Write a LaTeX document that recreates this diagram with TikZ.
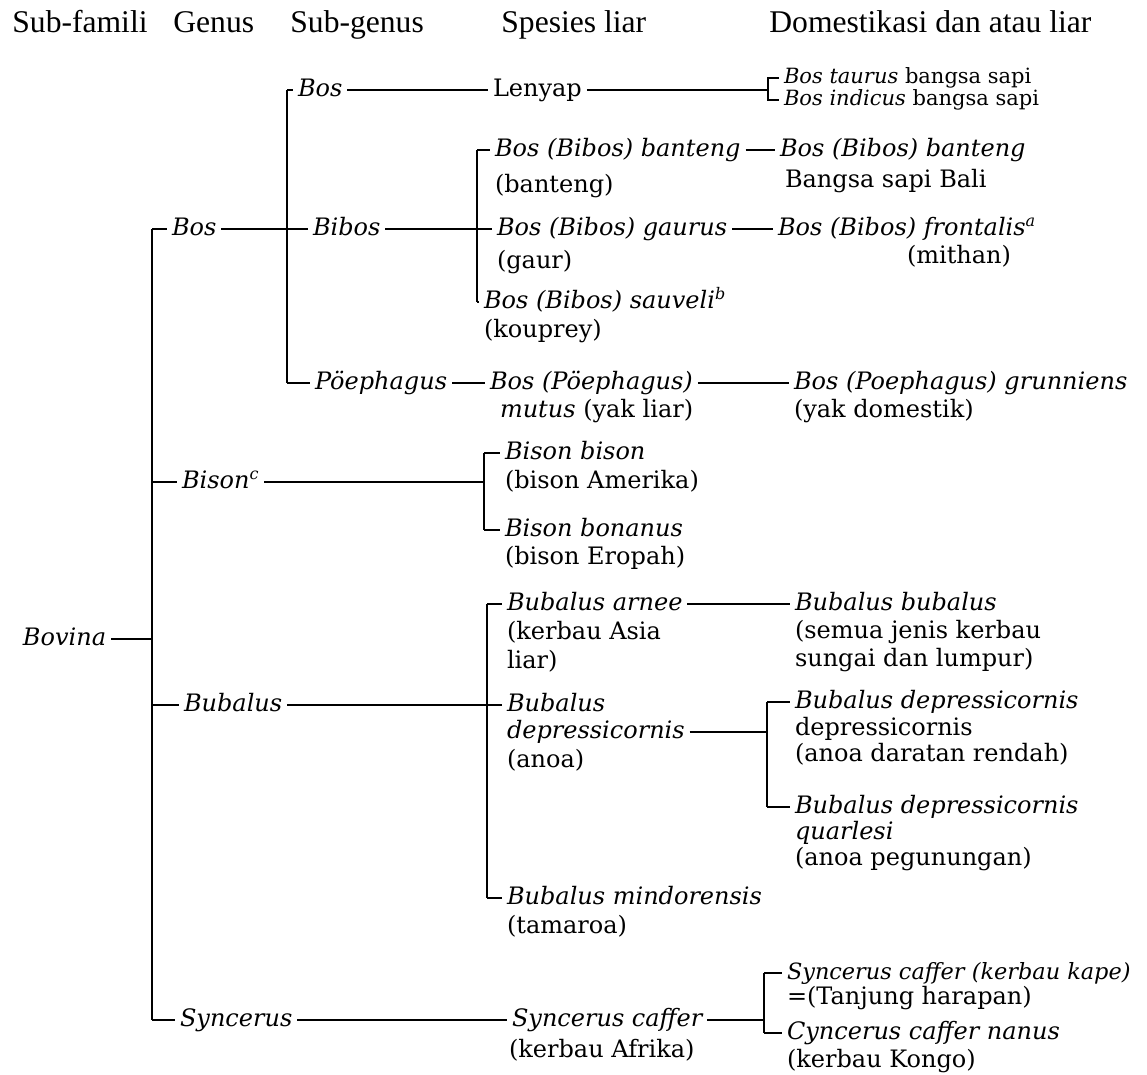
\documentclass[tikz,border=0pt]{standalone}
\usepackage{fontspec}
\setmainfont{DejaVu Serif}
\newfontfamily\headfont{Liberation Serif}
\usetikzlibrary{positioning}

\begin{document}
\begin{tikzpicture}[x=0.5pt, y=-0.5pt,
    head/.style={font=\headfont\fontsize{15.8}{18}\selectfont, anchor=base west, inner sep=0},
    txt/.style={font=\fontsize{12}{14}\selectfont, anchor=west, inner sep=0, outer xsep=2.5pt, text height=9pt, text depth=2.5pt},
    taxon/.style={txt, font=\fontsize{12}{14}\selectfont\itshape},
    small/.style={txt, font=\fontsize{10.5}{12}\selectfont, text height=7.5pt, text depth=2pt},
    more/.style={anchor=north west},
    link/.style={line width=0.8pt},
    bar/.style={line width=1.3pt}]
    \useasboundingbox (0,0) rectangle (1147,1075);

    \node[head] (h1) at (12,33) {Sub-famili};
    \node[head] (h2) at (173,33) {Genus};
    \node[head] (h3) at (290,33) {Sub-genus};
    \node[head] (h4) at (501,33) {Spesies liar};
    \node[head] (h5) at (769,33) {Domestikasi dan atau liar};

    \node[taxon] (bovina) at (18,639) {Bovina};
    \node[taxon] (bos) at (167,229) {Bos};
    \node[taxon] (bison) at (177,482) {Bison\textsuperscript{c}};
    \node[taxon] (bubalus) at (179,705) {Bubalus};
    \node[taxon] (syncerus) at (175,1020) {Syncerus};

    \node[taxon] (bos1) at (293,90) {Bos};
    \node[taxon] (bibos) at (308,229) {Bibos};
    \node[taxon] (poe) at (310,383) {Pöephagus};

    \node[txt] (lenyap) at (488,90) {Lenyap};
    \node[taxon] (bant) at (490,150) {Bos (Bibos) banteng};
    \node[txt, below=6pt of bant.south west, more] (bant1) {(banteng)};
    \node[taxon] (gaur) at (492,229) {Bos (Bibos) gaurus};
    \node[txt, below=4.5pt of gaur.south west, more] (gaur1) {(gaur)};
    \node[taxon] (sauv) at (479,302) {Bos (Bibos) sauveli\textsuperscript{b}};
    \node[txt, below=2.5pt of sauv.south west, more] (sauv1) {(kouprey)};
    \node[taxon] (poe1) at (485,383) {Bos (Pöephagus)};
    \node[txt, below=2pt of poe1.south west, more, xshift=5pt] (poe2) {\textit{mutus} (yak liar)};

    \node[taxon] (bb1) at (500,453) {Bison bison};
    \node[txt, below=2.5pt of bb1.south west, more] (bb1a) {(bison Amerika)};
    \node[taxon] (bb2) at (500,530) {Bison bonanus};
    \node[txt, below=2pt of bb2.south west, more] (bb2a) {(bison Eropah)};

    \node[taxon] (arnee) at (502,604) {Bubalus arnee};
    \node[txt, below=2.5pt of arnee.south west, more] (arnee1) {(kerbau Asia};
    \node[txt, below=2.5pt of arnee1.south west, more] (arnee2) {liar)};
    \node[taxon] (dep) at (502,705) {Bubalus};
    \node[taxon, below=1.5pt of dep.south west, more] (dep1) {depressicornis};
    \node[txt, below=2.5pt of dep1.south west, more] (dep2) {(anoa)};
    \node[taxon] (mind) at (502,898) {Bubalus mindorensis};
    \node[txt, below=2.5pt of mind.south west, more] (mind1) {(tamaroa)};
    \node[taxon] (caffer) at (507,1020) {Syncerus caffer};
    \node[txt, below=3.5pt of caffer.south west, more, xshift=-1.5pt] (caffer1) {(kerbau Afrika)};

    \node[small] (taurus) at (779,78) {\textit{Bos taurus} bangsa sapi};
    \node[small] (indicus) at (779,100) {\textit{Bos indicus} bangsa sapi};
    \node[taxon] (dbant) at (775,150) {Bos (Bibos) banteng};
    \node[txt, below=3.5pt of dbant.south west, more, xshift=2.5pt] (dbant1) {Bangsa sapi Bali};
    \node[taxon] (front) at (773,229) {Bos (Bibos) frontalis\textsuperscript{a}};
    \node[txt] (mithan) at (902,257) {(mithan)};
    \node[taxon] (grun) at (789,383) {Bos (Poephagus) grunniens};
    \node[txt, below=2pt of grun.south west, more] (grun1) {(yak domestik)};
    \node[taxon] (bubu) at (790,604) {Bubalus bubalus};
    \node[txt, below=2pt of bubu.south west, more] (bubu1) {(semua jenis kerbau};
    \node[txt, below=2pt of bubu1.south west, more] (bubu2) {sungai dan lumpur)};
    \node[taxon] (ddep) at (790,702) {Bubalus depressicornis};
    \node[txt, below=1.5pt of ddep.south west, more] (ddep1) {depressicornis};
    \node[txt, below=1pt of ddep1.south west, more] (ddep2) {(anoa daratan rendah)};
    \node[taxon] (qdep) at (790,807) {Bubalus depressicornis};
    \node[taxon, below=1pt of qdep.south west, more] (qdep1) {quarlesi};
    \node[txt, below=1pt of qdep1.south west, more] (qdep2) {(anoa pegunungan)};
    \node[taxon, font=\fontsize{11.2}{14}\selectfont\itshape] (kape) at (782,973) {Syncerus caffer (kerbau kape)};
    \node[txt, below=0.5pt of kape.south west, more] (kape1) {=(Tanjung harapan)};
    \node[taxon] (nanus) at (782,1033) {Cyncerus caffer nanus};
    \node[txt, below=2pt of nanus.south west, more] (nanus1) {(kerbau Kongo)};

    \coordinate (g) at (152,0);
    \coordinate (s) at (287,0);
    \coordinate (b1) at (477,0);
    \coordinate (b2) at (484,0);
    \coordinate (b3) at (487,0);
    \coordinate (c1) at (768,0);
    \coordinate (c2) at (767,0);
    \coordinate (c3) at (764,0);

    \draw[link] (bovina.east) -- (bovina.east -| g);
    \draw[bar] (bos.west -| g) -- (syncerus.west -| g);
    \draw[link] (bos.west -| g) -- (bos.west);
    \draw[link] (bison.west -| g) -- (bison.west);
    \draw[link] (bubalus.west -| g) -- (bubalus.west);
    \draw[link] (syncerus.west -| g) -- (syncerus.west);

    \draw[link] (bos.east) -- (bibos.west);
    \draw[bar] (bos1.west -| s) -- (poe.west -| s);
    \draw[link] (bos1.west -| s) -- (bos1.west);
    \draw[link] (poe.west -| s) -- (poe.west);
    \draw[link] (bos1.east) -- (lenyap.west);
    \draw[link] (lenyap.east) -- (lenyap.east -| c1);
    \draw[link] (taurus.west) -- (taurus.west -| c1) -- (indicus.west -| c1) -- (indicus.west);

    \draw[link] (bibos.east) -- (gaur.west);
    \draw[bar] (bant.west -| b1) -- (sauv.west -| b1);
    \draw[link] (bant.west -| b1) -- (bant.west);
    \draw[link] (sauv.west -| b1) -- (sauv.west);
    \draw[link] (bant.east) -- (dbant.west);
    \draw[link] (gaur.east) -- (front.west);
    \draw[link] (poe.east) -- (poe1.west);
    \draw[link] (poe1.east) -- (grun.west);

    \draw[link] (bison.east) -- (bison.east -| b2);
    \draw[bar] (bb1.west -| b2) -- (bb2.west -| b2);
    \draw[link] (bb1.west -| b2) -- (bb1.west);
    \draw[link] (bb2.west -| b2) -- (bb2.west);

    \draw[link] (bubalus.east) -- (dep.west);
    \draw[bar] (arnee.west -| b3) -- (mind.west -| b3);
    \draw[link] (arnee.west -| b3) -- (arnee.west);
    \draw[link] (mind.west -| b3) -- (mind.west);
    \draw[link] (arnee.east) -- (bubu.west);
    \draw[link] (dep1.east) -- (dep1.east -| c2);
    \draw[bar] (ddep.west -| c2) -- (qdep.west -| c2);
    \draw[link] (ddep.west -| c2) -- (ddep.west);
    \draw[link] (qdep.west -| c2) -- (qdep.west);

    \draw[link] (syncerus.east) -- (caffer.west);
    \draw[link] (caffer.east) -- (caffer.east -| c3);
    \draw[bar] (kape.west -| c3) -- (nanus.west -| c3);
    \draw[link] (kape.west -| c3) -- (kape.west);
    \draw[link] (nanus.west -| c3) -- (nanus.west);
\end{tikzpicture}
\end{document}
